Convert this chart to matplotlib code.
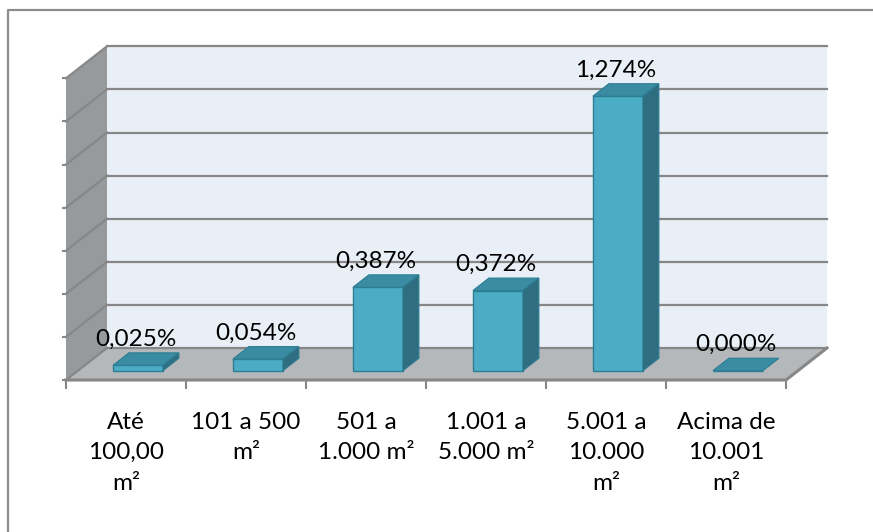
import numpy as np
import matplotlib
matplotlib.use("Agg")
import matplotlib.pyplot as plt
from matplotlib.patches import Polygon
from matplotlib.lines import Line2D

# ── data ──
categories = ["Até\n100,00\nm²", "101 a 500\nm²", "501 a\n1.000 m²",
              "1.001 a\n5.000 m²", "5.001 a\n10.000\nm²", "Acima de\n10.001\nm²"]
values = [0.025, 0.054, 0.387, 0.372, 1.274, 0.000]
value_labels = ["0,025%", "0,054%", "0,387%", "0,372%", "1,274%", "0,000%"]
grid_values = [0.0, 0.2, 0.4, 0.6, 0.8, 1.0, 1.2, 1.4]

# ── colours ──
WALL = "#e9eff7"
SIDE_WALL = "#969a9c"
FLOOR = "#b5b8bb"
GRID = "#878787"
BAR_FRONT = "#4bacc6"
BAR_TOP = "#3a8ca2"
BAR_SIDE = "#2f6e80"
BAR_EDGE = "#2d7d93"
FONT = ["Lato", "DejaVu Sans"]
FS = 17.5

# ── layout (pixels of the 873x532 canvas) ──
W_PX, H_PX = 873, 532
LEFT_PX, CAT_PX, ZERO_PX, PX_PER_UNIT = 66, 120, 380, 215.5
YMAX = grid_values[-1]
DX = 41 / CAT_PX          # full depth offset, category units
DY = 32 / PX_PER_UNIT     # full depth offset, value units
F0, F1 = 0.29, 0.68       # bar front / back depth fractions
BW = 50 / CAT_PX          # bar width

fig = plt.figure(figsize=(W_PX / 100, H_PX / 100), dpi=100)
ax = fig.add_axes([LEFT_PX / W_PX, (H_PX - ZERO_PX) / H_PX,
                   len(categories) * CAT_PX / W_PX, YMAX * PX_PER_UNIT / H_PX])
n = len(categories)
ax.set_xlim(-0.5, n - 0.5)
ax.set_ylim(0, YMAX)
for s in ax.spines.values():
    s.set_visible(False)
ax.patch.set_visible(False)

xl, xr = -0.5, n - 0.5
# back wall, side wall, floor
ax.add_patch(Polygon([(xl + DX, DY), (xr + DX, DY), (xr + DX, YMAX + DY), (xl + DX, YMAX + DY)],
                     closed=True, fc=WALL, ec="none", zorder=0, clip_on=False))
ax.add_patch(Polygon([(xl, 0), (xl + DX, DY), (xl + DX, YMAX + DY), (xl, YMAX)],
                     closed=True, fc=SIDE_WALL, ec="none", zorder=0, clip_on=False))
ax.add_patch(Polygon([(xl, 0), (xr, 0), (xr + DX, DY), (xl + DX, DY)],
                     closed=True, fc=FLOOR, ec="none", zorder=0.5, clip_on=False))

# gridlines on back and side walls
for g in grid_values:
    ax.plot([xl + DX, xr + DX], [g + DY, g + DY], color=GRID, lw=1.6, zorder=1, clip_on=False)
    ax.plot([xl, xl + DX], [g, g + DY], color=GRID, lw=1.6, zorder=1, clip_on=False)
# floor edges
ax.plot([xl, xr, xr + DX], [0, 0, DY], color=GRID, lw=2.2, zorder=1.5, clip_on=False)

# bars
x_front = np.arange(n) - 0.5 + F0 * DX + (1 - BW) / 2
base = F0 * DY
ddx, ddy = (F1 - F0) * DX, (F1 - F0) * DY
ax.bar(x_front, values, width=BW, bottom=base, align="edge", color=BAR_FRONT,
       edgecolor=BAR_EDGE, linewidth=1, zorder=3, clip_on=False)
for x0, v, lab in zip(x_front, values, value_labels):
    top = base + v
    ax.add_patch(Polygon([(x0, top), (x0 + BW, top), (x0 + BW + ddx, top + ddy), (x0 + ddx, top + ddy)],
                         closed=True, fc=BAR_TOP, ec=BAR_EDGE, lw=0.8, zorder=3, clip_on=False))
    if v > 0:
        ax.add_patch(Polygon([(x0 + BW, base), (x0 + BW, top), (x0 + BW + ddx, top + ddy), (x0 + BW + ddx, base + ddy)],
                             closed=True, fc=BAR_SIDE, ec=BAR_EDGE, lw=0.8, zorder=3, clip_on=False))
    ax.text(x0 + BW / 2 - 2 / CAT_PX, top + ddy + 3 / PX_PER_UNIT, lab, ha="center", va="bottom",
            fontsize=FS, family=FONT, color="black", zorder=4, clip_on=False)

# axes ticks
ax.set_xticks(range(n))
ax.set_xticklabels(categories, family=FONT, fontsize=FS, linespacing=1.55)
ax.set_xticks(np.arange(-0.5, n, 1), minor=True)
ax.tick_params(axis="x", which="major", length=0, pad=23)
ax.tick_params(axis="x", which="minor", length=6.5, width=1.5, color=GRID)
ax.set_yticks(grid_values)
ax.set_yticklabels([])
ax.tick_params(axis="y", length=3, width=1.5, color=GRID)

# outer chart frame (left and top)
fig.add_artist(Line2D([8 / W_PX, 8 / W_PX, 1], [0, 1 - 10 / H_PX, 1 - 10 / H_PX],
                      transform=fig.transFigure, color="#8c8c8c", lw=1.6))

fig.savefig("out.png", dpi=100)
